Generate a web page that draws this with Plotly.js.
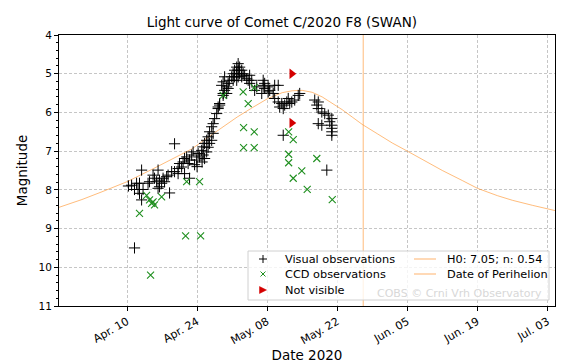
<!DOCTYPE html>
<html>
<head>
<meta charset="utf-8">
<script src="https://cdn.plot.ly/plotly-3.0.1.min.js"></script>
<style>html,body{margin:0;padding:0;background:#fff;}#chart{width:580px;height:363px;}</style>
</head>
<body>
<div id="chart"></div>
<script>
// ---- Data ----
const visualDates = [
"2020-04-11 12:00","2020-04-19 12:00","2020-04-12 22:00","2020-04-15 05:00","2020-04-16 05:00","2020-04-14 12:00",
"2020-04-14 05:00","2020-04-12 12:00","2020-04-11 22:00","2020-04-10 22:00","2020-04-11 12:00","2020-04-12 05:00",
"2020-04-13 05:00","2020-04-12 12:00","2020-04-12 22:00","2020-04-15 12:00","2020-04-15 22:00","2020-04-16 12:00",
"2020-04-16 22:00","2020-04-17 05:00","2020-04-17 22:00","2020-04-17 12:00","2020-04-16 12:00","2020-04-16 05:00",
"2020-04-18 12:00","2020-04-18 05:00","2020-04-18 22:00","2020-04-19 12:00","2020-04-20 05:00","2020-04-20 12:00",
"2020-04-20 22:00","2020-04-21 05:00","2020-04-21 12:00","2020-04-21 22:00","2020-04-22 05:00","2020-04-22 12:00",
"2020-04-22 22:00","2020-04-23 05:00","2020-04-23 22:00","2020-04-24 05:00","2020-04-24 12:00","2020-04-25 05:00",
"2020-04-25 22:00","2020-04-25 12:00","2020-04-22 12:00","2020-04-21 12:00","2020-04-20 05:00",
"2020-04-10 07:00","2020-04-23 12:00","2020-04-24 00:00","2020-04-26 05:00","2020-04-25 00:00",
"2020-04-29 05:00","2020-04-28 12:00","2020-04-28 05:00","2020-04-27 22:00","2020-04-27 12:00","2020-04-27 05:00",
"2020-04-26 22:00","2020-04-26 12:00","2020-04-26 05:00","2020-04-25 22:00","2020-04-25 12:00","2020-04-25 05:00",
"2020-04-24 22:00","2020-04-26 22:00","2020-04-26 12:00","2020-04-27 05:00",
"2020-05-02 05:00","2020-05-01 22:00","2020-05-02 12:00","2020-05-01 12:00","2020-05-02 05:00","2020-05-02 22:00",
"2020-05-01 05:00","2020-05-01 22:00","2020-05-02 12:00","2020-05-03 05:00","2020-05-03 12:00","2020-04-30 22:00",
"2020-05-01 12:00","2020-05-02 05:00","2020-05-02 22:00","2020-05-03 22:00","2020-04-30 12:00","2020-05-01 05:00",
"2020-05-01 22:00","2020-04-30 05:00","2020-04-29 12:00","2020-04-29 05:00","2020-04-28 22:00","2020-04-29 22:00",
"2020-04-29 12:00","2020-04-29 05:00","2020-04-29 22:00","2020-04-30 05:00","2020-05-04 12:00","2020-05-04 05:00",
"2020-05-04 22:00","2020-05-07 12:00","2020-05-08 05:00","2020-05-08 12:00","2020-05-07 05:00","2020-05-05 22:00",
"2020-05-05 12:00","2020-04-28 12:00","2020-04-28 05:00","2020-05-04 12:00",
"2020-05-07 05:00","2020-05-07 12:00","2020-05-06 22:00","2020-05-08 05:00","2020-05-09 12:00","2020-05-10 05:00",
"2020-05-09 05:00","2020-05-09 12:00","2020-05-10 05:00","2020-05-10 22:00","2020-05-11 12:00","2020-05-10 12:00",
"2020-05-11 05:00","2020-05-11 22:00","2020-05-12 12:00","2020-05-12 05:00","2020-05-12 22:00","2020-05-13 12:00",
"2020-05-14 05:00","2020-05-14 12:00","2020-05-17 12:00","2020-05-18 05:00","2020-05-17 22:00","2020-05-18 05:00",
"2020-05-18 22:00","2020-05-19 12:00","2020-05-20 05:00","2020-05-20 22:00","2020-05-20 12:00","2020-05-18 05:00",
"2020-05-18 22:00","2020-05-20 22:00","2020-05-20 22:00","2020-05-20 22:00","2020-05-20 22:00","2020-05-11 05:00",
"2020-05-19 22:00"
];
const visualMags = [
9.50,6.81,7.49,7.62,7.49,7.79,
7.83,7.83,7.83,7.88,7.99,7.99,
7.99,8.09,8.26,7.70,7.79,7.75,
7.83,7.70,7.66,7.79,7.92,7.96,
8.08,7.62,7.53,7.53,7.45,7.32,
7.41,7.28,7.19,7.15,7.32,7.23,
7.10,7.02,7.23,7.06,7.15,7.10,
7.02,7.19,7.70,7.58,7.58,
7.90,7.35,7.40,6.90,7.28,
5.56,5.81,5.90,6.03,6.16,6.29,
6.37,6.50,6.63,6.72,6.80,6.89,
6.98,6.72,6.80,6.54,
4.74,4.83,4.83,4.91,4.91,4.91,
5.00,5.00,5.00,5.00,5.04,5.08,
5.08,5.08,5.08,5.13,5.17,5.17,
5.17,5.25,5.08,5.21,5.30,5.34,
5.43,5.51,5.51,5.38,5.25,5.17,
5.17,5.25,5.34,5.43,5.17,5.34,
5.43,5.77,5.86,5.04,
5.30,5.38,5.51,5.47,5.30,5.30,
5.51,5.64,5.73,5.77,5.81,5.86,
5.90,5.73,5.77,5.64,5.73,5.68,
5.56,5.51,5.68,5.73,5.81,5.90,
5.99,6.03,6.07,6.16,6.24,6.29,
6.33,6.33,6.41,6.50,6.59,6.59,
7.49
];
const ccdDates = [
"2020-04-13 22:00","2020-04-14 12:00","2020-04-14 22:00","2020-04-15 05:00","2020-04-15 12:00","2020-04-16 22:00",
"2020-04-21 22:00","2020-04-24 12:00","2020-04-12 12:00","2020-04-21 17:00","2020-04-24 17:00","2020-04-14 17:00",
"2020-05-03 07:00","2020-05-05 10:00","2020-05-03 07:00","2020-05-05 10:00","2020-05-12 07:00","2020-05-13 05:00",
"2020-05-12 07:00","2020-05-12 07:00","2020-05-17 22:00","2020-05-14 22:00","2020-05-13 05:00","2020-05-16 00:00",
"2020-05-21 00:00","2020-04-29 05:00","2020-05-03 05:00","2020-05-04 05:00","2020-05-05 10:00"
];
const ccdMags = [
8.14,8.26,8.35,8.31,8.39,8.18,
7.79,7.79,8.61,9.19,9.19,10.20,
6.39,6.50,6.91,6.91,6.50,6.70,
7.08,7.30,7.19,7.51,7.70,7.99,
8.25,5.56,5.47,5.77,5.36
];
const notVisibleDates = ["2020-05-12 22:00","2020-05-12 22:00"];
const notVisibleMags = [5.00,6.27];

// light-curve model (H0: 7.05; n: 0.54)
const modelDates = [
"2020-03-27","2020-04-01","2020-04-05","2020-04-10","2020-04-15","2020-04-20","2020-04-23","2020-04-26",
"2020-04-29","2020-05-02","2020-05-05","2020-05-08","2020-05-11","2020-05-13","2020-05-15","2020-05-17",
"2020-05-19","2020-05-21","2020-05-23","2020-05-25","2020-05-27","2020-05-30","2020-06-02","2020-06-05",
"2020-06-09","2020-06-12","2020-06-16","2020-06-19","2020-06-23","2020-06-26","2020-06-30","2020-07-05"
];
const modelMags = [
8.47,8.25,8.05,7.79,7.47,7.14,6.94,6.66,
6.38,6.12,5.88,5.65,5.49,5.44,5.43,5.48,
5.60,5.76,5.93,6.12,6.31,6.55,6.79,7.00,
7.29,7.50,7.76,7.96,8.15,8.27,8.40,8.55
];
const perihelionDate = "2020-05-27 04:30";
const magRange = [11, 4];
const dateRange = ["2020-03-27 10:00", "2020-07-04 12:00"];

const legendLabels = ["Visual observations","CCD observations","Not visible","H0: 7.05; n: 0.54","Date of Perihelion"];
const titleText = "Light curve of Comet C/2020 F8 (SWAN)";
const xTitle = "Date 2020";
const yTitle = "Magnitude";
const watermark = "COBS © Crni Vrh Observatory";

// ---- Styles ----
const ORANGE = "rgba(255,140,30,0.65)";
const GREEN = "#1f8f1f";
const RED = "#d40000";
const FONT = "DejaVu Sans";

const W = 580, H = 363;
const L = 59, R = 555, T = 35, B = 306;
const px = x => (x - L) / (R - L);
const py = y => 1 - (y - T) / (B - T);

const traces = [
  {x: modelDates, y: modelMags, type: "scatter", mode: "lines",
   line: {color: ORANGE, width: 0.9}, hoverinfo: "skip", showlegend: false},
  {x: [perihelionDate, perihelionDate], y: magRange, type: "scatter", mode: "lines",
   line: {color: ORANGE, width: 0.9}, showlegend: false},
  {x: visualDates, y: visualMags, type: "scatter", mode: "markers",
   marker: {symbol: "cross-thin", size: 8, line: {color: "#000", width: 1}}, showlegend: false},
  {x: ccdDates, y: ccdMags, type: "scatter", mode: "markers",
   marker: {symbol: "x-thin", size: 7, line: {color: GREEN, width: 1.1}}, showlegend: false},
  {x: notVisibleDates, y: notVisibleMags, type: "scatter", mode: "markers",
   marker: {symbol: "triangle-right", size: 9, color: RED}, showlegend: false}
];

// manual legend (layout decoration)
const shapes = [
  {type: "rect", xref: "paper", yref: "paper", x0: px(248), x1: px(549), y0: py(300), y1: py(251),
   fillcolor: "rgba(255,255,255,0.8)", line: {color: "#d0d0d0", width: 1}, layer: "above"},
  {type: "line", xref: "paper", yref: "paper", x0: px(259), x1: px(267), y0: py(259), y1: py(259), line: {color: "#000", width: 1}},
  {type: "line", xref: "paper", yref: "paper", x0: px(263), x1: px(263), y0: py(255), y1: py(263), line: {color: "#000", width: 1}},
  {type: "line", xref: "paper", yref: "paper", x0: px(260.5), x1: px(265.5), y0: py(271.5), y1: py(276.5), line: {color: GREEN, width: 1}},
  {type: "line", xref: "paper", yref: "paper", x0: px(260.5), x1: px(265.5), y0: py(276.5), y1: py(271.5), line: {color: GREEN, width: 1}},
  {type: "path", xref: "paper", yref: "paper",
   path: `M ${px(259.5)} ${py(286.5)} L ${px(266.5)} ${py(290)} L ${px(259.5)} ${py(293.5)} Z`,
   fillcolor: RED, line: {color: RED, width: 0.5}},
  {type: "line", xref: "paper", yref: "paper", x0: px(414), x1: px(436), y0: py(259), y1: py(259), line: {color: ORANGE, width: 1}},
  {type: "line", xref: "paper", yref: "paper", x0: px(414), x1: px(436), y0: py(274), y1: py(274), line: {color: ORANGE, width: 1}}
];
const legPos = [[283,259],[283,274],[283,290],[445,259],[445,274]];
const annotations = legendLabels.map((t, i) => ({
  text: t, xref: "paper", yref: "paper", x: px(legPos[i][0]), y: py(legPos[i][1]),
  xanchor: "left", yanchor: "middle", showarrow: false, font: {family: FONT, size: 11.3, color: "#000"}
}));
annotations.push({text: watermark, xref: "paper", yref: "paper", x: px(544), y: py(293),
  xanchor: "right", yanchor: "middle", showarrow: false, font: {family: FONT, size: 11, color: "#d8d8d8"}});

const layout = {
  width: W, height: H,
  margin: {l: L, r: W - R, t: T, b: H - B, pad: 0},
  paper_bgcolor: "#fff", plot_bgcolor: "#fff",
  font: {family: FONT, size: 10, color: "#000"},
  showlegend: false,
  title: {text: titleText, font: {family: FONT, size: 13.5, color: "#000"}, xref: "container", x: 0.486, xanchor: "center", y: 0.94, yanchor: "middle"},
  xaxis: {
    type: "date", range: dateRange, tick0: "2020-04-10", dtick: 14 * 86400000, tickformat: "%b. %d",
    tickangle: -30, ticks: "outside", ticklen: 4, tickcolor: "#000", tickwidth: 1,
    showgrid: true, gridcolor: "#b8b8b8", griddash: "3px,2px", gridwidth: 0.8,
    showline: true, linecolor: "#000", linewidth: 1, mirror: true, zeroline: false,
    tickfont: {family: FONT, size: 11, color: "#000"},
    title: {text: xTitle, font: {family: FONT, size: 13.5, color: "#000"}, standoff: 5}
  },
  yaxis: {
    range: magRange, dtick: 1, tick0: 4, ticks: "outside", ticklen: 4, tickcolor: "#000", tickwidth: 1,
    minor: {dtick: 0.2, ticks: "outside", ticklen: 2, tickcolor: "#000", showgrid: false},
    showgrid: true, gridcolor: "#b8b8b8", griddash: "3px,2px", gridwidth: 0.8,
    showline: true, linecolor: "#000", linewidth: 1, mirror: true, zeroline: false,
    tickfont: {family: FONT, size: 10.5, color: "#000"},
    title: {text: yTitle, font: {family: FONT, size: 13.5, color: "#000"}, standoff: 7}
  },
  shapes: shapes,
  annotations: annotations
};

Plotly.newPlot("chart", traces, layout, {staticPlot: true, displayModeBar: false});
</script>
</body>
</html>
